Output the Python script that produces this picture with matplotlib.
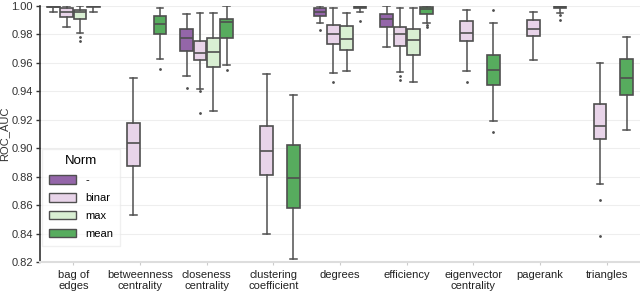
import matplotlib.pyplot as plt
from matplotlib.patches import Patch

# ---- data ----
categories = ['bag of\nedges', 'betweenness\ncentrality', 'closeness\ncentrality',
              'clustering\ncoefficient', 'degrees', 'efficiency',
              'eigenvector\ncentrality', 'pagerank', 'triangles']
norms = ['-', 'binar', 'max', 'mean']

# (whisker low, q1, median, q3, whisker high) per category, None = not present
stats_dash = [
    (0.996, 0.9990, 0.9995, 1.000, 1.000),
    None,
    (0.9508, 0.9686, 0.9777, 0.9838, 0.9946),
    None,
    (0.988, 0.993, 0.9956, 0.9984, 1.000),
    (0.9714, 0.985, 0.9911, 0.9944, 1.000),
    None, None, None,
]
stats_binar = [
    (0.985, 0.9925, 0.9956, 0.9984, 1.000),
    (0.853, 0.8875, 0.9036, 0.9177, 0.9494),
    (0.9414, 0.9618, 0.9667, 0.9754, 0.9953),
    (0.840, 0.881, 0.8982, 0.9156, 0.9524),
    (0.9527, 0.973, 0.9805, 0.9866, 0.9984),
    (0.9538, 0.972, 0.9803, 0.9855, 0.9984),
    (0.9543, 0.9756, 0.9812, 0.9894, 0.9972),
    (0.962, 0.9789, 0.9838, 0.9902, 0.996),
    (0.8748, 0.9063, 0.9158, 0.9309, 0.9597),
]
stats_max = [
    (0.981, 0.9906, 0.9958, 0.9974, 1.000),
    None,
    (0.9262, 0.9571, 0.9674, 0.9777, 0.9953),
    None,
    (0.9543, 0.9688, 0.9766, 0.986, 0.9953),
    (0.9468, 0.9655, 0.976, 0.984, 0.9984),
    None, None, None,
]
stats_mean = [
    (0.9958, 0.9995, 1.000, 1.000, 1.000),
    (0.963, 0.9805, 0.9873, 0.993, 0.9984),
    (0.9585, 0.9775, 0.9885, 0.9906, 1.000),
    (0.8219, 0.858, 0.8793, 0.902, 0.9376),
    (0.996, 0.9984, 0.999, 1.000, 1.000),
    (0.9883, 0.9944, 0.9977, 0.9995, 1.000),
    (0.9193, 0.9447, 0.955, 0.9653, 0.9878),
    (0.9953, 0.9984, 0.999, 1.000, 1.000),
    (0.913, 0.9376, 0.9496, 0.9625, 0.9784),
]

fliers_dash = [[], [], [0.9423], [], [0.983], [], [], [], []]
fliers_binar = [[], [], [0.940, 0.9248], [], [0.9468], [0.951, 0.948], [0.9468], [], [0.8636, 0.8385]]
fliers_max = [[0.9784, 0.9754], [], [], [], [], [], [], [], []]
fliers_mean = [[], [0.9557], [0.955], [], [0.9897], [0.9867, 0.985], [0.9112, 0.9972], [0.9937, 0.9902], []]

COLORS = {'-': '#9466a9', 'binar': '#e8d4e9', 'max': '#d9efd3', 'mean': '#57ac5e'}
EDGE = '#4f4f4f'

plt.rcParams['font.family'] = ['Liberation Sans', 'DejaVu Sans']

fig = plt.figure(figsize=(6.4, 2.94), dpi=100)
ax = fig.add_axes([0.0625, 0.109, 0.9375, 0.871])

all_stats = [stats_dash, stats_binar, stats_max, stats_mean]
all_fliers = [fliers_dash, fliers_binar, fliers_max, fliers_mean]
offsets = [-0.3, -0.1, 0.1, 0.3]

for h, norm in enumerate(norms):
    bxp_stats, pos = [], []
    for i, s in enumerate(all_stats[h]):
        if s is None:
            continue
        wl, q1, med, q3, wh = s
        bxp_stats.append(dict(whislo=wl, q1=q1, med=med, q3=q3, whishi=wh,
                              fliers=all_fliers[h][i]))
        pos.append(i + offsets[h])
    ax.bxp(bxp_stats, positions=pos, widths=0.19, patch_artist=True,
           boxprops=dict(facecolor=COLORS[norm], edgecolor=EDGE, linewidth=1.2),
           medianprops=dict(color=EDGE, linewidth=1.2),
           whiskerprops=dict(color=EDGE, linewidth=1.1),
           capprops=dict(color=EDGE, linewidth=1.1),
           flierprops=dict(marker='o', markersize=1.0, markerfacecolor=EDGE,
                           markeredgecolor=EDGE),
           capwidths=0.1, manage_ticks=False, zorder=3)

ax.set_xlim(-0.5, len(categories) - 0.5)
ax.set_ylim(0.82, 1.0)
yticks = [0.82, 0.84, 0.86, 0.88, 0.90, 0.92, 0.94, 0.96, 0.98, 1.00]
ax.set_yticks(yticks)
ax.set_yticklabels([f'{v:.2f}' for v in yticks], fontsize=8, color='#333333')
ax.set_xticks(range(len(categories)))
ax.set_xticklabels(categories, fontsize=8, color='#222222', linespacing=1.05)
ax.set_ylabel('ROC_AUC', fontsize=8, color='#333333')
ax.yaxis.set_label_coords(-0.052, 0.5)

ax.grid(axis='y', color='#eeeeee', linewidth=0.8, zorder=0)
ax.set_axisbelow(True)
for side in ['top', 'right']:
    ax.spines[side].set_visible(False)
ax.spines['left'].set_color('#333333')
ax.spines['left'].set_linewidth(1.2)
ax.spines['bottom'].set_color('#dddddd')
ax.spines['bottom'].set_linewidth(1.5)
ax.tick_params(axis='y', length=3, width=1, color='#333333', pad=2)
ax.tick_params(axis='x', length=2, width=0.8, color='#cccccc', pad=4)

handles = [Patch(facecolor=COLORS[n], edgecolor=EDGE, linewidth=1, label=n) for n in norms]
leg = ax.legend(handles=handles, title='Norm', loc='lower left', fontsize=8,
                title_fontsize=9.5, frameon=True, framealpha=0.6, edgecolor='#e6e6e6',
                fancybox=False, handlelength=2.4, handleheight=0.8, handletextpad=0.9,
                labelspacing=0.7, borderpad=0.6, borderaxespad=0.2,
                bbox_to_anchor=(0.0, 0.055))

fig.savefig('out.png', dpi=100)
